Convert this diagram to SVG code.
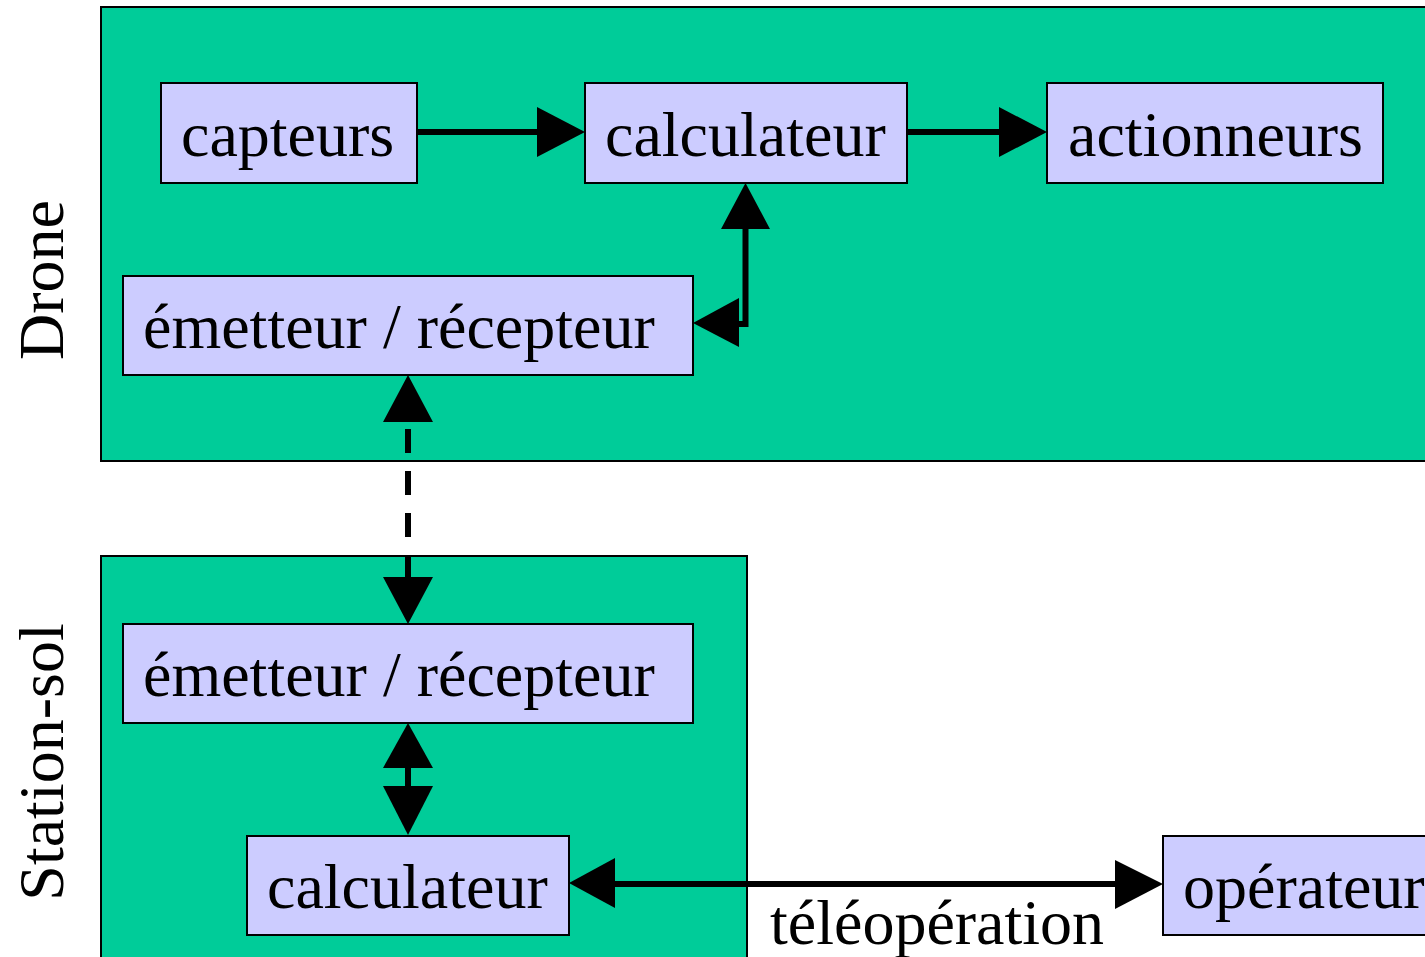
<svg xmlns="http://www.w3.org/2000/svg" width="1425" height="957" viewBox="0 0 1425 957">
  <style>
    .zone { fill: #00cc99; stroke: #000; stroke-width: 2; }
    .box { fill: #ccccff; stroke: #000; stroke-width: 2; }
    .lbl { font-family: "Liberation Serif", "Times New Roman", serif; font-size: 64px; fill: #000; }
    .wire { fill: none; stroke: #000; stroke-width: 6; stroke-linejoin: miter; }
    .head { fill: #000; stroke: none; }
  </style>
  <rect width="1425" height="957" fill="#fff"/>

  <!-- subsystem zones -->
  <g id="zone-drone">
    <rect class="zone" x="101" y="7" width="1340" height="454"/>
    <text class="lbl" transform="translate(63,280) rotate(-90)" text-anchor="middle">Drone</text>
  </g>
  <g id="zone-station">
    <rect class="zone" x="101" y="556" width="646" height="420"/>
    <text class="lbl" transform="translate(63,762) rotate(-90)" text-anchor="middle">Station-sol</text>
  </g>

  <!-- drone components -->
  <g id="capteurs">
    <rect class="box" x="161" y="83" width="256" height="100"/>
    <text class="lbl" x="181" y="156">capteurs</text>
  </g>
  <g id="calculateur-drone">
    <rect class="box" x="585" y="83" width="322" height="100"/>
    <text class="lbl" x="605" y="156">calculateur</text>
  </g>
  <g id="actionneurs">
    <rect class="box" x="1047" y="83" width="336" height="100"/>
    <text class="lbl" x="1068" y="156">actionneurs</text>
  </g>
  <g id="radio-drone">
    <rect class="box" x="123" y="276" width="570" height="99"/>
    <text class="lbl" x="143" y="348">émetteur / récepteur</text>
  </g>

  <!-- ground station components -->
  <g id="radio-station">
    <rect class="box" x="123" y="624" width="570" height="99"/>
    <text class="lbl" x="143" y="696">émetteur / récepteur</text>
  </g>
  <g id="calculateur-station">
    <rect class="box" x="247" y="836" width="322" height="99"/>
    <text class="lbl" x="267" y="908">calculateur</text>
  </g>
  <g id="operateur">
    <rect class="box" x="1163" y="836" width="290" height="99"/>
    <text class="lbl" x="1183" y="908">opérateur</text>
  </g>

  <!-- connectors -->
  <g id="connectors">
    <!-- capteurs -> calculateur -->
    <line class="wire" x1="416" y1="132" x2="540" y2="132"/>
    <polygon class="head" points="585,132 537,107 537,157"/>
    <!-- calculateur -> actionneurs -->
    <line class="wire" x1="906" y1="132" x2="1002" y2="132"/>
    <polygon class="head" points="1047,132 999,107 999,157"/>
    <!-- calculateur <-> radio (drone) -->
    <polyline class="wire" points="745.5,226 745.5,324 736,324"/>
    <polygon class="head" points="745.5,183 721,229 770,229"/>
    <polygon class="head" points="693,323 739,298 739,347"/>
    <!-- radio link drone <-> station -->
    <line class="wire" x1="408" y1="429" x2="408" y2="577" stroke-dasharray="24 18"/>
    <polygon class="head" points="408,375 383,422 433,422"/>
    <polygon class="head" points="408,624 383,577 433,577"/>
    <!-- radio <-> calculateur (station) -->
    <line class="wire" x1="408" y1="765" x2="408" y2="790"/>
    <polygon class="head" points="408,723 383,768 433,768"/>
    <polygon class="head" points="408,835 383,786 433,786"/>
    <!-- téléopération -->
    <line class="wire" x1="612" y1="884" x2="1118" y2="884"/>
    <polygon class="head" points="569,883 615,858 615,908"/>
    <polygon class="head" points="1163,884 1115,860 1115,909"/>
    <text class="lbl" x="770" y="944">téléopération</text>
  </g>
</svg>
